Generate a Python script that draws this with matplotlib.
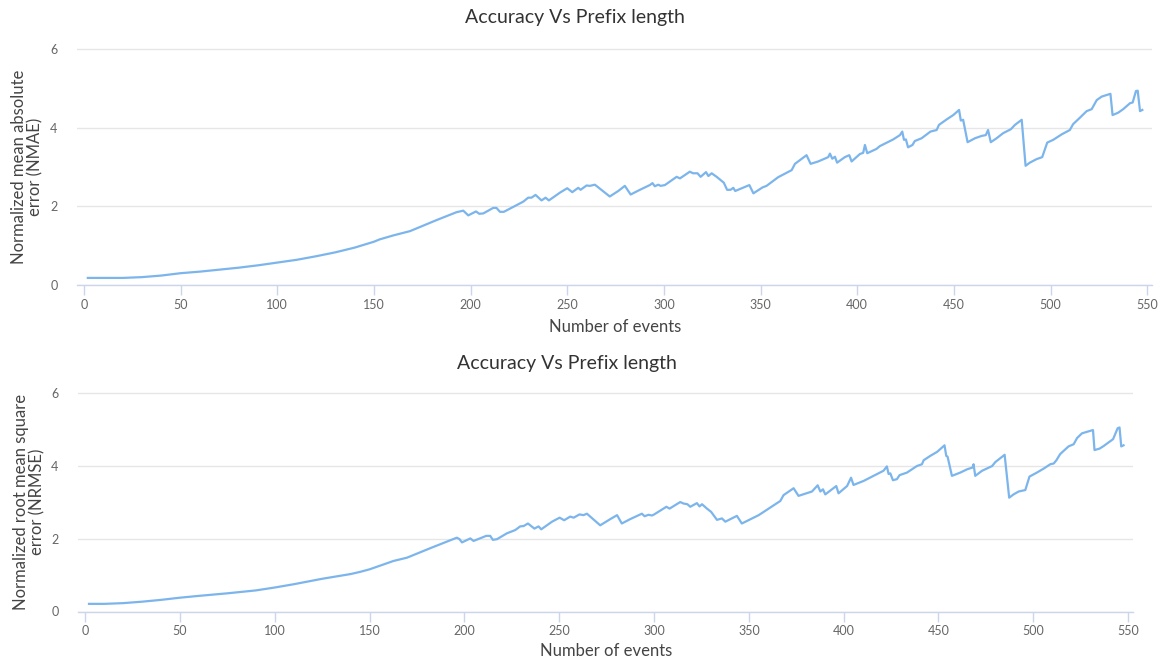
import matplotlib
matplotlib.use("Agg")
import matplotlib.pyplot as plt

# prefix length (number of events) vs normalized error
nmae_x = [2, 10, 20, 30, 40, 50, 60, 70, 80, 90, 100, 110, 120, 130, 140, 150,
          153, 160, 168.7, 182.4, 192.7, 196.2, 198.8, 202.8, 204.5, 206.6, 211.7, 213.4, 215.2, 217.2,
          227.3, 229.8, 231.5, 233.6, 236.7, 238.8, 240.5, 246.3, 250, 252.6, 255.7, 256.9, 260,
          261.7, 264.3, 272, 276.4, 279.8, 282.8, 287.6, 292.7, 294.1, 295.3, 297.1, 298.3, 300.5,
          306.6, 308.3, 313.4, 315.1, 317.4, 319, 321.8, 323, 324.7, 327.3, 329.3, 331, 332.7,
          334.5, 335.9, 336.9, 344.2, 346.3, 351, 353.1, 359.1, 366.1, 367.8, 373.8, 375.9, 379.8,
          385, 385.9, 387.1, 388.5, 389.6, 393.6, 395.9, 397.1, 401.4, 403.1, 404, 405.2, 410,
          411.7, 418.6, 422.1, 423.3, 424.2, 425.2, 426.3, 428.6, 429.8, 433.3, 437.9, 441.1,
          442.3, 446.3, 449.7, 452.7, 453.6, 454.8, 457.1, 460.9, 464.4, 466.5, 467.7, 469.1,
          472.1, 475.5, 479.5, 481.6, 485.1, 487.1, 489.3, 492.8, 495.7, 498.3, 501.4, 505.8,
          510, 511.7, 514.3, 518.7, 521.3, 523.9, 526.5, 531, 532.1, 535, 537.6, 541.1, 542.5,
          544.2, 545.1, 546.3, 547.5]
nmae_y = [0.18, 0.18, 0.18, 0.20, 0.24, 0.30, 0.34, 0.39, 0.44, 0.50, 0.57, 0.64, 0.73, 0.83, 0.95, 1.10,
          1.16, 1.26, 1.37, 1.65, 1.85, 1.89, 1.77, 1.87, 1.81, 1.82, 1.96, 1.96, 1.86, 1.86,
          2.12, 2.22, 2.22, 2.29, 2.15, 2.22, 2.15, 2.35, 2.46, 2.36, 2.47, 2.42, 2.53,
          2.52, 2.55, 2.25, 2.39, 2.52, 2.30, 2.42, 2.54, 2.59, 2.51, 2.55, 2.52, 2.54,
          2.75, 2.71, 2.88, 2.84, 2.84, 2.75, 2.87, 2.77, 2.84, 2.75, 2.67, 2.60, 2.42,
          2.42, 2.47, 2.39, 2.54, 2.33, 2.48, 2.52, 2.74, 2.92, 3.08, 3.30, 3.08, 3.14,
          3.25, 3.34, 3.21, 3.26, 3.11, 3.25, 3.30, 3.14, 3.33, 3.36, 3.56, 3.35, 3.46,
          3.53, 3.70, 3.81, 3.90, 3.69, 3.70, 3.50, 3.56, 3.66, 3.73, 3.90, 3.94,
          4.07, 4.21, 4.32, 4.45, 4.18, 4.20, 3.63, 3.73, 3.79, 3.81, 3.94, 3.63,
          3.73, 3.86, 3.96, 4.07, 4.20, 3.03, 3.11, 3.20, 3.25, 3.62, 3.69, 3.83,
          3.94, 4.09, 4.21, 4.42, 4.47, 4.70, 4.79, 4.86, 4.32, 4.38, 4.47, 4.62, 4.64,
          4.93, 4.94, 4.42, 4.45]

nrmse_x = [2, 10, 20, 30, 40, 50, 60, 75, 90, 100, 110, 125, 140, 145,
           150, 156, 162.6, 169.7, 182.9, 191.6, 196, 197.4, 198.7, 203.1, 204.8, 211.5, 213.6, 215,
           217.2, 222.4, 226.8, 229.4, 231.2, 233.5, 236.9, 239.1, 240.5, 246.2, 250.2, 252.6,
           255.8, 257.6, 260.7, 262.8, 264.6, 271.6, 276.9, 280.5, 283, 287.4, 293.6, 295, 297.1,
           298.9, 300.1, 306.5, 308.2, 313.8, 315.5, 317.6, 319.1, 322.6, 324, 325.3, 327.9,
           330.1, 333.2, 335.8, 337.6, 343.7, 346.3, 352.5, 355.2, 361.3, 366.6, 368.3, 373.6,
           376.2, 383.3, 386.3, 387.7, 389.1, 390.3, 396.1, 397.3, 401.8, 403.9, 405.2, 410.5,
           415.8, 421, 422.8, 423.7, 424.6, 426, 428.1, 429.5, 433.4, 438.6, 441.3, 442.2, 445.7,
           449.3, 453.2, 454.1, 454.8, 457.1, 461.5, 465.1, 468, 468.5, 469.4, 473, 478.3, 480,
           484.9, 487.3, 489.6, 492.3, 495.8, 498, 501.9, 505.5, 509, 510.8, 512.2, 514.2,
           518.6, 521.3, 523.1, 525.7, 531.5, 532.3, 535, 537.1, 542.1, 544.5, 545.5, 546.4,
           547.6]
nrmse_y = [0.21, 0.21, 0.23, 0.27, 0.32, 0.38, 0.43, 0.50, 0.58, 0.66, 0.75, 0.90, 1.03, 1.09,
           1.16, 1.27, 1.39, 1.48, 1.76, 1.94, 2.03, 1.99, 1.90, 2.01, 1.94, 2.08, 2.08, 1.97,
           1.99, 2.15, 2.24, 2.34, 2.35, 2.42, 2.28, 2.34, 2.26, 2.47, 2.58, 2.51,
           2.61, 2.58, 2.67, 2.65, 2.69, 2.37, 2.54, 2.65, 2.42, 2.54, 2.69, 2.62, 2.66,
           2.64, 2.67, 2.88, 2.83, 3.01, 2.97, 2.95, 2.88, 2.98, 2.89, 2.95, 2.83,
           2.74, 2.52, 2.56, 2.47, 2.63, 2.42, 2.58, 2.65, 2.86, 3.04, 3.20, 3.39,
           3.18, 3.30, 3.47, 3.30, 3.36, 3.22, 3.45, 3.25, 3.45, 3.68, 3.48, 3.59,
           3.73, 3.87, 3.99, 3.78, 3.80, 3.61, 3.64, 3.75, 3.82, 4.00, 4.05, 4.16, 4.28,
           4.39, 4.57, 4.28, 4.26, 3.73, 3.82, 3.91, 3.96, 4.05, 3.73, 3.87, 4.00, 4.11,
           4.31, 3.13, 3.22, 3.30, 3.34, 3.71, 3.82, 3.93, 4.05, 4.07, 4.16, 4.33,
           4.54, 4.60, 4.77, 4.90, 4.99, 4.44, 4.48, 4.55, 4.74, 5.04, 5.06, 4.54,
           4.57]

x_ticks = [0, 50, 100, 150, 200, 250, 300, 350, 400, 450, 500, 550]
y_ticks = [0, 2, 4, 6]

title = "Accuracy Vs Prefix length"
x_title = "Number of events"
nmae_label = "Normalized mean absolute\nerror (NMAE)"
nrmse_label = "Normalized root mean square\nerror (NRMSE)"

line_color = "#7cb5ec"
grid_color = "#e6e6e6"
axis_color = "#ccd6eb"

plt.rcParams["font.family"] = ["Lato", "DejaVu Sans"]

W, H = 1159, 662
fig = plt.figure(figsize=(W / 100, H / 100), dpi=100)
fig.patch.set_facecolor("white")


def px_axes(left, right, top, bottom):
    # pixel box -> figure fraction
    return [left / W, 1 - bottom / H, (right - left) / W, (bottom - top) / H]


def style(ax, xlim, ylim):
    ax.set_xlim(*xlim)
    ax.set_ylim(*ylim)
    ax.set_xticks(x_ticks)
    ax.set_yticks(y_ticks)
    ax.grid(axis="y", color=grid_color, linewidth=1)
    ax.set_axisbelow(True)
    for s in ["top", "right", "left"]:
        ax.spines[s].set_visible(False)
    ax.spines["bottom"].set_color(axis_color)
    ax.spines["bottom"].set_linewidth(1)
    ax.tick_params(axis="x", colors=axis_color, length=7, width=1, pad=3, labelsize=9,
                   labelcolor="#666666")
    ax.tick_params(axis="y", length=0, pad=14, labelsize=9, labelcolor="#666666")


ax1 = fig.add_axes(px_axes(77, 1152, 47, 285))
ax1.plot(nmae_x, nmae_y, color=line_color, linewidth=1.6, solid_joinstyle="round")
style(ax1, (-3.6, 552.5), (0, 6.05))

ax2 = fig.add_axes(px_axes(78, 1133, 391.5, 611.5))
ax2.plot(nrmse_x, nrmse_y, color=line_color, linewidth=1.6, solid_joinstyle="round")
style(ax2, (-3.8, 552.6), (0, 6.05))

# titles and axis titles
fig.text(575 / W, 1 - 17 / H, title, ha="center", va="center", fontsize=14, color="#333333")
fig.text(567 / W, 1 - 364 / H, title, ha="center", va="center", fontsize=14, color="#333333")
fig.text(615 / W, 1 - 327 / H, x_title, ha="center", va="center", fontsize=12, color="#444444")
fig.text(606 / W, 1 - 651 / H, x_title, ha="center", va="center", fontsize=12, color="#444444")
fig.text(27 / W, 1 - 167 / H, nmae_label, ha="center", va="center", rotation=90,
         fontsize=12, color="#444444", linespacing=1.05, multialignment="center")
fig.text(29 / W, 1 - 502 / H, nrmse_label, ha="center", va="center", rotation=90,
         fontsize=12, color="#444444", linespacing=1.05, multialignment="center")

fig.savefig("out.png", dpi=100, facecolor="white")
